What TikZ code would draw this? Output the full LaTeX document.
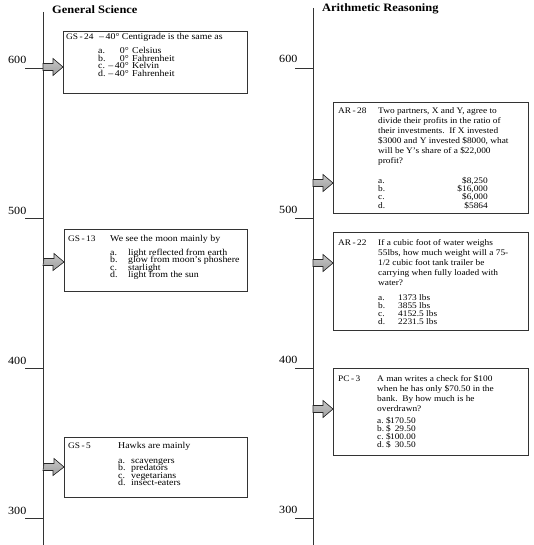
\documentclass[tikz,border=0pt]{standalone}
\usepackage{fontspec}
\setmainfont{Liberation Serif}[FakeStretch=1.1]
\begin{document}
\begin{tikzpicture}[x=1pt,y=-1pt,
  axisline/.style={draw=black!80,line width=0.8pt},
  tickline/.style={draw=black!80,line width=0.8pt},
  qbox/.style={draw=black!80,line width=0.8pt,rectangle,inner sep=0pt,anchor=north west},
  garrow/.style={draw=black!85,top color=gray!45,bottom color=gray!75,line width=0.6pt,line join=miter},
  txt/.style={inner sep=0pt,anchor=base west,font=\fontsize{8.5}{9}\selectfont},
  rtxt/.style={inner sep=0pt,anchor=base east,font=\fontsize{8.5}{9}\selectfont},
  gtxt/.style={inner sep=0pt,anchor=base west,font=\fontsize{9}{9}\selectfont},
  grtxt/.style={inner sep=0pt,anchor=base east,font=\fontsize{9}{9}\selectfont},
  hdr/.style={inner sep=0pt,anchor=base west,font=\fontsize{11.3}{12}\selectfont\bfseries},
  axlbl/.style={inner sep=0pt,anchor=base west,font=\fontsize{11}{12}\selectfont}]
\useasboundingbox (0,0) rectangle (534,545);
% axes
\coordinate (lt) at (43,12); \coordinate (lb) at (43,545);
\coordinate (rt) at (313,8); \coordinate (rb) at (313,545);
\draw[axisline] (lt) -- (lb);
\draw[axisline] (rt) -- (rb);
% ticks and labels
\foreach \v/\y in {600/68,500/218,400/368,300/518}{
  \coordinate (lt\v) at (25,\y); \coordinate (la\v) at (43,\y);
  \draw[tickline] (lt\v) -- (la\v);
  \node[axlbl] (ll\v) at (8,\y-4) {\v};
  \coordinate (rt\v) at (295,\y); \coordinate (ra\v) at (313,\y);
  \draw[tickline] (rt\v) -- (ra\v);
  \node[axlbl] (rl\v) at (279,\y-5) {\v};
}
% headers
\node[hdr] (hgs) at (52,14) {General Science};
\node[hdr] (har) at (322,12) {Arithmetic Reasoning};
% boxes
\node[qbox,minimum width=184pt,minimum height=62pt] (gs24) at (63,31) {};
\node[qbox,minimum width=183pt,minimum height=62pt] (gs13) at (64,229) {};
\node[qbox,minimum width=183pt,minimum height=60pt] (gs5) at (64,437) {};
\node[qbox,minimum width=195pt,minimum height=111pt] (ar28) at (333,102) {};
\node[qbox,minimum width=195pt,minimum height=98pt] (ar22) at (333,232) {};
\node[qbox,minimum width=195pt,minimum height=87pt] (pc3) at (333,368) {};
% arrow anchors on axes
\coordinate (a24) at (43,67);
\coordinate (a13) at (43,262);
\coordinate (a5) at (43,467);
\coordinate (a28) at (313,183);
\coordinate (a22) at (313,263);
\coordinate (a3) at (313,409);
\foreach \s/\b in {a24/gs24,a13/gs13,a5/gs5,a28/ar28,a22/ar22,a3/pc3}{
  \filldraw[garrow] (\s) ++(0,3.5) -- ++(10,0) -- ++(0,5) -- (\s -| \b.west)
     -- ++(-10,-8.5) -- ++(0,5) -- ++(-10,0) -- cycle;
}
% GS-24
\node[txt] (gs24l) at (66,40) {GS\,-\,24};
\node[gtxt] (gs24q) at (99,40) {–\,40° Centigrade is the same as};
\foreach \k/\l/\d/\n/\y in {a/a./0°/Celsius/54,b/b./0°/Fahrenheit/61.5,c/c./–\,40°/Kelvin/69,d/d./–\,40°/Fahrenheit/76.5}{
  \node[gtxt] (gs24\k) at (98,\y) {\l};
  \node[grtxt] (gs24d\k) at (129,\y) {\d};
  \node[gtxt] (gs24n\k) at (132,\y) {\n};
}
% GS-13
\node[txt] (gs13l) at (68,241) {GS\,-\,13};
\node[gtxt] (gs13q) at (110,241) {We see the moon mainly by};
\foreach \k/\l/\n/\y in {a/a./light reflected from earth/255,b/b./glow from moon's phoshere/262.5,c/c./starlight/270,d/d./light from the sun/277.5}{
  \node[gtxt] (gs13\k) at (110,\y) {\l};
  \node[gtxt] (gs13n\k) at (128,\y) {\n};
}
% GS-5
\node[txt] (gs5l) at (68,448) {GS\,-\,5};
\node[gtxt] (gs5q) at (118,448) {Hawks are mainly};
\foreach \k/\l/\n/\y in {a/a./scavengers/463,b/b./predators/470.5,c/c./vegetarians/478,d/d./insect-eaters/485.5}{
  \node[gtxt] (gs5\k) at (118,\y) {\l};
  \node[gtxt] (gs5n\k) at (131,\y) {\n};
}
% AR-28
\node[txt] (ar28l) at (338,114) {AR\,-\,28};
\foreach \k/\t/\y in {1/{Two partners, X and Y, agree to}/114,2/{divide their profits in the ratio of}/124,3/{their investments.\ \ If X invested}/134,4/{\$3000 and Y invested \$8000, what}/144,5/{will be Y's share of a \$22,000}/154,6/{profit?}/164}{
  \node[txt] (ar28q\k) at (378,\y) {\t};
}
\foreach \k/\l/\n/\y in {a/a./{\$8,250}/184,b/b./{\$16,000}/192,c/c./{\$6,000}/200,d/d./{\$5864}/208}{
  \node[txt] (ar28\k) at (378,\y) {\l};
  \node[rtxt] (ar28n\k) at (488,\y) {\n};
}
% AR-22
\node[txt] (ar22l) at (338,245) {AR\,-\,22};
\foreach \k/\t/\y in {1/{If a cubic foot of water weighs}/245,2/{55lbs, how much weight will a 75-}/255,3/{1/2 cubic foot tank trailer be}/265,4/{carrying when fully loaded with}/275,5/{water?}/285}{
  \node[txt] (ar22q\k) at (378,\y) {\t};
}
\foreach \k/\l/\n/\y in {a/a./{1373 lbs}/300,b/b./{3855 lbs}/308,c/c./{4152.5 lbs}/316,d/d./{2231.5 lbs}/324}{
  \node[txt] (ar22\k) at (378,\y) {\l};
  \node[txt] (ar22n\k) at (398,\y) {\n};
}
% PC-3
\node[txt] (pc3l) at (338,381) {PC\,-\,3};
\foreach \k/\t/\y in {1/{A man writes a check for \$100}/381,2/{when he has only \$70.50 in the}/391,3/{bank.\ \ By how much is he}/401,4/{overdrawn?}/411}{
  \node[txt] (pc3q\k) at (377,\y) {\t};
}
\foreach \k/\l/\n/\y in {a/a./{170.50}/423,b/b./{29.50}/431,c/c./{100.00}/439,d/d./{30.50}/447}{
  \node[txt] (pc3\k) at (377,\y) {\l};
  \node[txt] (pc3s\k) at (386,\y) {\$};
  \node[rtxt] (pc3n\k) at (416,\y) {\n};
}
\end{tikzpicture}
\end{document}
